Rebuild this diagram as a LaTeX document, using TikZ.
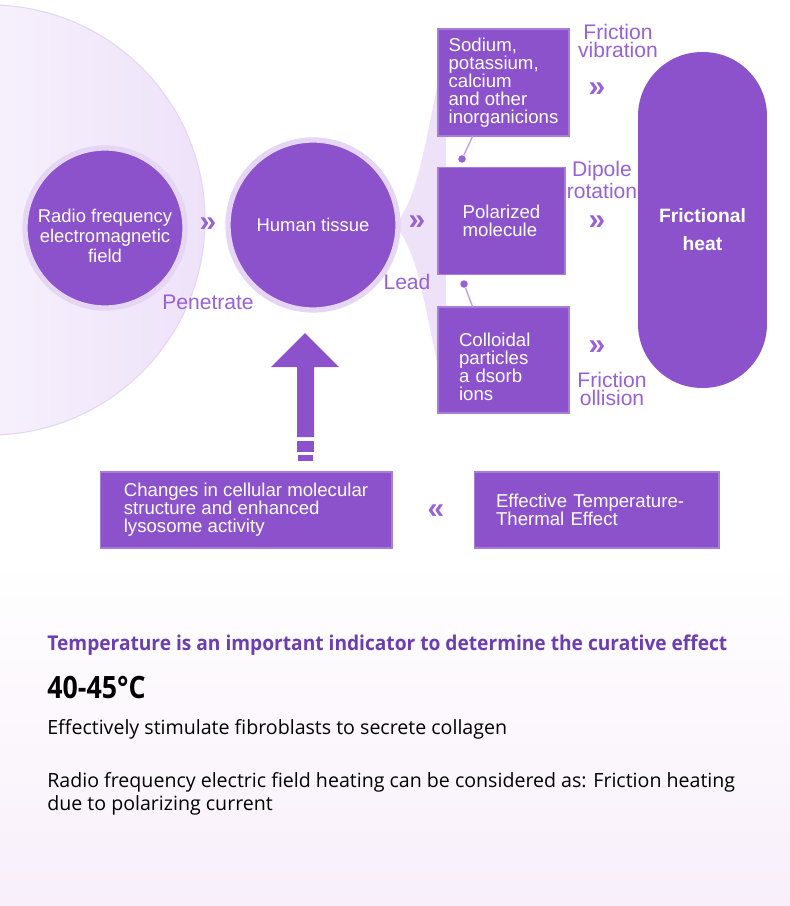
\documentclass[tikz,border=0pt]{standalone}
\usepackage{fontspec}
\setmainfont{Liberation Sans}
\newfontfamily\notefont{Open Sans}
\newfontfamily\titlefont[FakeStretch=0.94]{Open Sans}
\newfontfamily\rangefont[FakeStretch=0.87]{Open Sans}
\usetikzlibrary{positioning}

\definecolor{rfpurple}{RGB}{139,82,204}
\definecolor{rflabel}{RGB}{152,98,214}
\definecolor{rfpale}{RGB}{238,226,249}
\definecolor{rfhalo}{RGB}{230,214,246}
\definecolor{rftitle}{RGB}{108,62,178}
\definecolor{rfbg}{RGB}{248,239,250}

\begin{document}
\begin{tikzpicture}[x=0.02cm, y=-0.02cm,
  disc/.style={circle, fill=rfpurple, draw=rfhalo, line width=3pt, text=white,
    align=center, font=\fontsize{10.5}{11.2}\selectfont},
  box/.style={rectangle, fill=rfpurple, draw=rfpurple!75, line width=0.6pt, text=white,
    align=left, font=\fontsize{10.6}{10.2}\selectfont},
  chevron/.style={text=rflabel, font=\bfseries\fontsize{17}{17}\selectfont},
  tag/.style={text=rflabel, align=center, font=\fontsize{12}{9.8}\selectfont},
  dot/.style={circle, fill=rflabel, inner sep=0pt, minimum size=0.15cm}]
  \useasboundingbox (0,0) rectangle (790,906);

  % Background
  \fill[white] (0,0) rectangle (790,906);
  \shade[top color=white, bottom color=rfbg] (0,560) rectangle (790,906);
  \shade[left color=white, right color=rfpale] (-10,220) circle (215);
  \draw[rfhalo, line width=0.6pt] (-10,220) circle (215);
  \fill[rfpale] (446,48) .. controls (426,130) and (420,200) .. (394,225)
    .. controls (420,250) and (426,320) .. (446,402) -- cycle;

  % Circles
  \node[disc, minimum size=3.2cm,
    label={[name=rftext, text=white, align=center, yshift=-0.16cm,
      font=\fontsize{10.5}{11.2}\selectfont]center:Radio frequency\\electromagnetic\\field}]
    (rf) at (105,228) {};
  \node[disc, minimum size=3.4cm] (tissue) at (313,225) {Human tissue};

  % Boxes
  \node[box, minimum width=2.62cm, minimum height=2.14cm] (ions) at (503.5,82.5)
    {Sodium,\\potassium,\\calcium\\and other\\inorganicions};
  \node[box, minimum width=2.54cm, minimum height=2.14cm] (polar) at (501.5,221)
    {Polarized\\molecule};
  \node[box, minimum height=2.12cm, text width=1.78cm, inner xsep=0.42cm] (colloid) at (503.5,360)
    {\rule{0pt}{0.55cm}Colloidal\\particles\\a dsorb\\ions};
  \node[rectangle, rounded corners=1.28cm, fill=rfpurple, minimum width=2.58cm,
    minimum height=6.72cm,
    label={[name=heattext, text=white, align=center, yshift=-0.2cm,
      font=\bfseries\fontsize{11}{16}\selectfont]center:Frictional\\heat}] (heat) at (702.5,220) {};
  \node[box, minimum width=5.84cm, minimum height=1.52cm] (change) at (246,510)
    {Changes in cellular molecular\\structure and enhanced\\lysosome activity};
  \node[box, minimum height=1.52cm, text width=4.02cm, inner xsep=0.44cm] (effect) at (596.5,510)
    {Effective Temperature-\\Thermal Effect};

  % Chevrons
  \node[chevron] (c1) at (208,225) {»};
  \node[chevron] (c2) at (417,223) {»};
  \node[chevron] (c3) at (597,90) {»};
  \node[chevron] (c4) at (597,223) {»};
  \node[chevron] (c5) at (597,348) {»};
  \node[chevron] (c6) at (436,512) {«};

  % Labels
  \node[tag] (pen) at (208,302) {Penetrate};
  \node[tag] (lead) at (407,282) {Lead};
  \node[tag] (vib) at (618,41) {Friction\\vibration};
  \node[tag] (dip) at (602,180) {Dipole\\rotation};
  \node[tag] (col) at (612,389) {Friction\\ollision};

  % Dots and links
  \node[dot] (d1) at (462,159) {};
  \node[dot] (d2) at (464,284) {};
  \draw[rflabel!60, line width=0.8pt] ([xshift=0.7cm]ions.south west) -- (d1);
  \draw[rflabel!60, line width=0.8pt] (d2) -- ([xshift=0.7cm]colloid.north west);

  % Feedback arrow
  \fill[rfpurple] (297,437) -- (297,367) -- (271,367) -- (305,333) -- (339,367)
    -- (314,367) -- (314,437) -- cycle;
  \fill[rfpurple] (297,441) rectangle (314,452);
  \fill[rfpurple] (298,455) rectangle (313,461);

  % Notes
  \node[anchor=base west, inner sep=0pt, text=rftitle,
    font=\titlefont\bfseries\fontsize{11.6}{14}\selectfont] (title) at (47,650)
    {Temperature is an important indicator to determine the curative effect};
  \node[anchor=base west, inner sep=0pt,
    font=\rangefont\bfseries\fontsize{17.5}{20}\selectfont] (range) at (47,698) {40-45°C};
  \node[anchor=base west, inner sep=0pt,
    font=\notefont\fontsize{11.15}{13}\selectfont] (fibro) at (47,734)
    {Effectively stimulate fibroblasts to secrete collagen};
  \node[anchor=base west, inner sep=0pt, align=left,
    font=\notefont\fontsize{11.15}{13}\selectfont] (polnote) at (47,810)
    {Radio frequency electric field heating can be considered as: Friction heating\\
     due to polarizing current};
\end{tikzpicture}
\end{document}
